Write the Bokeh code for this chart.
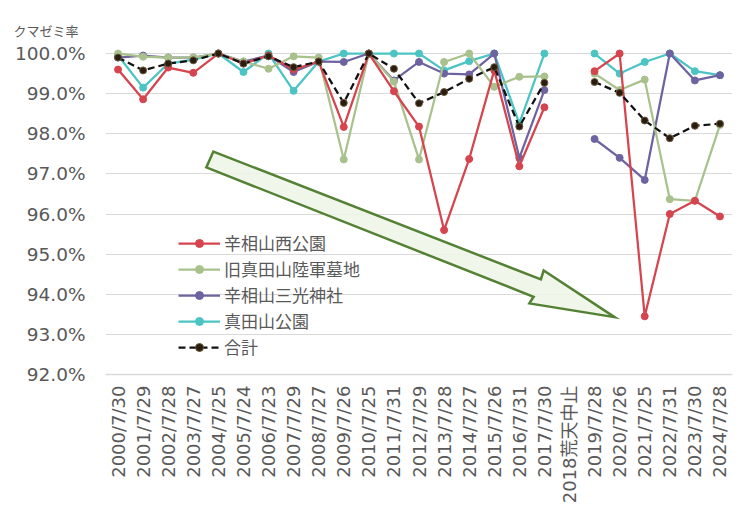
import math
from bokeh.plotting import figure
from bokeh.models import (Range1d, FixedTicker, PrintfTickFormatter, Legend, LegendItem,
                          ColumnDataSource)
from bokeh.embed import file_html
from bokeh.resources import INLINE

nan = float("nan")

dates = ["2000/7/30", "2001/7/29", "2002/7/28", "2003/7/27", "2004/7/25", "2005/7/24",
         "2006/7/23", "2007/7/29", "2008/7/27", "2009/7/26", "2010/7/25", "2011/7/31",
         "2012/7/29", "2013/7/28", "2014/7/27", "2015/7/26", "2016/7/31", "2017/7/30",
         "2018荒天中止", "2019/7/28", "2020/7/26", "2021/7/25", "2022/7/31", "2023/7/30",
         "2024/7/28"]

names = ["辛相山西公園", "旧真田山陸軍墓地", "辛相山三光神社", "真田山公園", "合計"]

nishi_koen = [99.60, 98.86, 99.65, 99.52, 100.0, 99.75, 99.95, 99.60, 99.80, 98.17,
              100.0, 99.06, 98.18, 95.60, 97.37, 99.58, 97.19, 98.66, nan, 99.56,
              100.0, 93.45, 96.00, 96.33, 95.94]
rikugun_bochi = [100.0, 99.92, 99.90, 99.90, 100.0, 99.80, 99.62, 99.93, 99.90, 97.36,
                 100.0, 99.30, 97.36, 99.79, 100.0, 99.17, 99.42, 99.43, nan, 99.50,
                 99.09, 99.35, 96.37, 96.33, 98.22]
sanko_jinja = [99.90, 99.95, 99.90, 99.90, 100.0, 99.80, 99.95, 99.54, 99.80, 99.79,
               100.0, 99.33, 99.79, 99.50, 99.48, 100.0, 97.40, 99.09, nan, 97.87,
               97.40, 96.85, 100.0, 99.33, 99.46]
sanadayama_koen = [99.95, 99.15, 99.75, 99.85, 100.0, 99.54, 100.0, 99.07, 99.80, 100.0,
                   100.0, 100.0, 100.0, 99.58, 99.81, 100.0, 98.26, 100.0, nan, 100.0,
                   99.50, 99.79, 100.0, 99.56, 99.46]
total = [99.90, 99.58, 99.75, 99.83, 100.0, 99.75, 99.93, 99.66, 99.80, 98.77,
         100.0, 99.62, 98.76, 99.04, 99.37, 99.66, 98.18, 99.27, nan, 99.29,
         99.02, 98.33, 97.89, 98.20, 98.25]

y_ticks = [92, 93, 94, 95, 96, 97, 98, 99, 100]

series = [nishi_koen, rikugun_bochi, sanko_jinja, sanadayama_koen, total]
colors = ["#d6444e", "#a9c18c", "#6e63a0", "#4cc4c4", "#111111"]
marker_fill = ["#d6444e", "#a9c18c", "#6e63a0", "#4cc4c4", "#2a1c10"]

# trend arrow outline (annotation), in data coordinates
arrow_x = [3.80, 16.86, 16.97, 19.80, 16.40, 16.57, 3.52]
arrow_y = [97.556, 94.37, 94.592, 93.428, 93.772, 93.937, 97.162]

xs = list(range(len(dates)))

p = figure(width=733, height=506, output_backend="svg", toolbar_location=None,
           x_range=Range1d(-0.5, len(dates) - 0.5), y_range=Range1d(92, 100.25),
           min_border_left=105, min_border_right=1, min_border_top=43, min_border_bottom=128)
p.outline_line_color = None
p.background_fill_color = "white"
p.border_fill_color = "white"

p.title.text = "クマゼミ率"
p.title.align = "left"
p.title.offset = -92
p.title.standoff = 8
p.title.text_font = "Noto Sans CJK JP"
p.title.text_font_size = "13px"
p.title.text_font_style = "normal"
p.title.text_color = "#595959"

# axes
p.yaxis.ticker = FixedTicker(ticks=y_ticks)
p.yaxis.formatter = PrintfTickFormatter(format="%.1f%%")
p.yaxis.axis_line_color = None
p.yaxis.major_tick_line_color = None
p.yaxis.minor_tick_line_color = None
p.yaxis.major_tick_out = 0
p.yaxis.major_label_standoff = 20
p.yaxis.major_label_text_font = "DejaVu Sans"
p.yaxis.major_label_text_font_size = "18.5px"
p.yaxis.major_label_text_color = "#595959"

p.xaxis.ticker = FixedTicker(ticks=xs)
p.xaxis.major_label_overrides = {i: d for i, d in enumerate(dates)}
p.xaxis.major_label_orientation = math.pi / 2
p.xaxis.axis_line_color = "#d9d9d9"
p.xaxis.axis_line_width = 1.5
p.xaxis.major_tick_line_color = None
p.xaxis.minor_tick_line_color = None
p.xaxis.major_tick_out = 0
p.xaxis.major_label_standoff = 11
p.xaxis.major_label_text_font = "DejaVu Sans, Noto Sans CJK JP"
p.xaxis.major_label_text_font_size = "18px"
p.xaxis.major_label_text_color = "#595959"

p.xgrid.grid_line_color = None
p.ygrid.ticker = FixedTicker(ticks=y_ticks)
p.ygrid.grid_line_color = "#d9d9d9"
p.ygrid.grid_line_width = 1

# arrow
p.patch(arrow_x, arrow_y, fill_color="#eef5e8", fill_alpha=0.85,
        line_color="#548235", line_width=2.5, line_join="miter")

renderers = {}
draw_order = [3, 2, 1, 0, 4]
for k in draw_order:
    src = ColumnDataSource(dict(x=xs, y=series[k]))
    dash = "7 4" if k == 4 else "solid"
    ln = p.line("x", "y", source=src, line_color=colors[k], line_width=2.25, line_dash=dash)
    sc = p.scatter("x", "y", source=src, size=7, fill_color=marker_fill[k],
                   line_color=colors[k] if k != 4 else "#6b5a3a", line_width=1)
    renderers[k] = [ln, sc]

items = [LegendItem(label=names[k], renderers=renderers[k]) for k in range(5)]
legend = Legend(items=items, location=(73, 15), orientation="vertical",
                border_line_color=None, background_fill_alpha=0,
                padding=0, margin=0, spacing=1, glyph_width=42, glyph_height=20,
                label_height=20, label_standoff=4,
                label_text_font="Noto Sans CJK JP", label_text_font_size="17px",
                label_text_color="#595959")
p.add_layout(legend)

open("out.html", "w").write(file_html(p, INLINE))
